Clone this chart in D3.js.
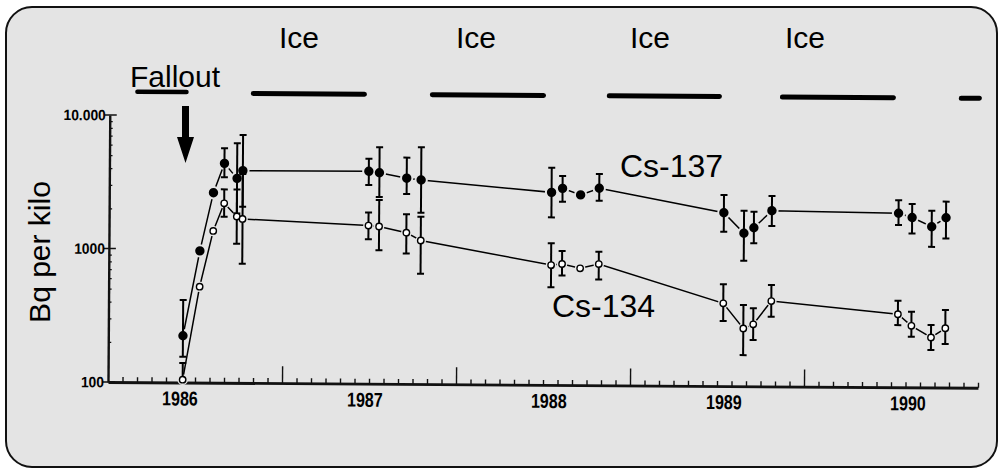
<!DOCTYPE html>
<html><head><meta charset="utf-8">
<script src="https://cdn.jsdelivr.net/npm/d3@7"></script>
<style>
html,body{margin:0;padding:0;background:#fff;}
svg{display:block;font-family:"Liberation Sans",Arial,Helvetica,sans-serif;}
</style></head>
<body>
<svg id="chart" width="1001" height="475"></svg>
<script>
// ---------- data ----------
const sampleDates = [1986.429,1986.523,1986.599,1986.661,1986.734,1986.767,
  1987.491,1987.552,1987.709,1987.792,
  1988.542,1988.605,1988.709,1988.816,
  1989.533,1989.649,1989.706,1989.809,
  1990.537,1990.615,1990.728,1990.810];
const cs137   = [224,970,2650,4400,3400,3890, 3900,3810,3480,3380, 2770,2970,2660,2990, 1990,1400,1540,2070, 2010,1870,1600,1870];
const cs137Lo = [156,null,null,3460,1860,2090, 3080,2510,2650,1920, 1800,2360,null,2410, 1430,870,1180,1590, 1640,1420,1130,1310];
const cs137Hi = [415,null,null,5710,6230,7190, 4850,5910,4960,5940, 4240,3680,null,3820, 2700,2060,2030,2670, 2520,2360,2110,2470];
const cs134   = [105,523,1370,2210,1760,1690, 1530,1510,1360,1190, 790,806,750,809, 417,271,291,436, 352,289,237,278];
const cs134Lo = [100,null,null,1750,1100,780, 1210,1000,950,670, 540,660,null,620, 307,171,222,333, 292,239,191,212];
const cs134Hi = [140,null,null,2810,2810,3670, 1920,2380,1870,1790, 1150,1010,null,1000, 579,406,384,575, 445,368,294,381];

const iceStart = [1986.824,1987.853,1988.870,1989.865,1990.893];
const iceEnd   = [1987.463,1988.492,1989.503,1990.503,1990.997];
const falloutPeriod = [1986.158,1986.440];

const yearLabels = ["1986","1987","1988","1989","1990"];
const yearLabelAt = [1986.414,1987.477,1988.534,1989.540,1990.598];
const yTickValues = [100,1000,10000];
const yTickLabels = ["100","1000","10.000"];

// ---------- layout ----------
const svg = d3.select("#chart");
const BG = "#e4e4e4";
svg.append("rect").attr("x",6).attr("y",7).attr("width",991).attr("height",460)
  .attr("rx",26).attr("ry",26).attr("fill",BG).attr("stroke","#111").attr("stroke-width",2);

const ox = 108, oy = 382;
const x = d3.scaleLinear().domain([1986,1991]).range([0,870]);
const y = d3.scaleLog().domain([100,10000]).range([0,-267]);

const g = svg.append("g").attr("transform",`translate(${ox},${oy}) rotate(0.38)`);

// x axis
const monthTicks = d3.range(0,61).map(i=>1986+i/12);
const xAxis = g.append("g").call(d3.axisBottom(x).tickValues(monthTicks).tickSize(-5).tickSizeOuter(0).tickFormat(""));
xAxis.select(".domain").attr("stroke","#111").attr("stroke-width",2.8);
xAxis.selectAll(".tick line").attr("stroke","#111").attr("stroke-width",1.4)
  .attr("y2",d=>{const yr=Math.round(d); return (Math.abs(d-yr)<1e-6 && yr>1986 && yr<1991)? -17 : -5;});
xAxis.selectAll(".tick").filter(d=>Math.abs(d-1986)<1e-6).remove();

g.selectAll(".yearlab").data(yearLabels).join("text")
  .attr("transform",(d,i)=>`translate(${x(yearLabelAt[i])},23) scale(0.8,1)`)
  .attr("text-anchor","middle").attr("font-size",20).attr("font-weight","bold").attr("fill","#000")
  .text(d=>d);

// y axis
const minor = [];
[100,1000].forEach(b=>{for(let k=2;k<=9;k++) minor.push(b*k);});
const yAxis = g.append("g").call(d3.axisLeft(y).tickValues(minor).tickSize(-3).tickSizeOuter(0).tickFormat(""));
yAxis.select(".domain").attr("stroke","#111").attr("stroke-width",2.4);
yAxis.selectAll(".tick line").attr("stroke","#111").attr("stroke-width",1.2);
g.selectAll(".ymaj").data(yTickValues).join("line")
  .attr("x1",-5).attr("x2",7).attr("y1",d=>y(d)).attr("y2",d=>y(d))
  .attr("stroke","#111").attr("stroke-width",1.6);
g.selectAll(".ylab").data(yTickValues).join("text")
  .attr("transform",d=>`translate(-4,${y(d)}) scale(0.92,1)`).attr("dy","0.36em")
  .attr("text-anchor","end").attr("font-size",15).attr("font-weight","bold").attr("fill","#000")
  .text((d,i)=>yTickLabels[i]);

// ice & fallout bars
const barY = -289.5;
g.selectAll(".ice").data(iceStart).join("line")
  .attr("x1",d=>x(d)).attr("x2",(d,i)=>x(iceEnd[i]))
  .attr("y1",barY).attr("y2",barY)
  .attr("stroke","#000").attr("stroke-width",5).attr("stroke-linecap","round");
g.append("line").attr("x1",x(falloutPeriod[0])).attr("x2",x(falloutPeriod[1]))
  .attr("y1",barY-1).attr("y2",barY-1)
  .attr("stroke","#000").attr("stroke-width",4.5).attr("stroke-linecap","round");

// series
const line = d3.line().x(d=>x(d[0])).y(d=>y(d[1]));
const s137 = sampleDates.map((d,i)=>[d,cs137[i],cs137Lo[i],cs137Hi[i]]);
const s134 = sampleDates.map((d,i)=>[d,cs134[i],cs134Lo[i],cs134Hi[i]]);

[s137,s134].forEach(s=>{
  g.append("path").datum(s).attr("d",line).attr("fill","none").attr("stroke","#000").attr("stroke-width",1.5);
});
// halos
[[s137,4.7],[s134,3.3]].forEach(([s,r])=>{
  g.append("g").selectAll("circle").data(s).join("circle")
    .attr("cx",d=>x(d[0])).attr("cy",d=>y(d[1])).attr("r",r+2).attr("fill",BG);
});
// error bars
[s137,s134].forEach(s=>{
  const eb = g.append("g").selectAll("g").data(s.filter(d=>d[2]!=null)).join("g");
  eb.append("line").attr("x1",d=>x(d[0])).attr("x2",d=>x(d[0]))
    .attr("y1",d=>y(d[2])).attr("y2",d=>y(d[3])).attr("stroke","#000").attr("stroke-width",2);
  eb.append("line").attr("x1",d=>x(d[0])-3.5).attr("x2",d=>x(d[0])+3.5)
    .attr("y1",d=>y(d[3])).attr("y2",d=>y(d[3])).attr("stroke","#000").attr("stroke-width",2);
  eb.filter(d=>d[2]>100).append("line").attr("x1",d=>x(d[0])-3.5).attr("x2",d=>x(d[0])+3.5)
    .attr("y1",d=>y(d[2])).attr("y2",d=>y(d[2])).attr("stroke","#000").attr("stroke-width",2);
});
// markers
g.append("g").selectAll("circle").data(s137).join("circle")
  .attr("cx",d=>x(d[0])).attr("cy",d=>y(d[1])).attr("r",4.7).attr("fill","#000");
g.append("g").selectAll("circle").data(s134).join("circle")
  .attr("cx",d=>x(d[0])).attr("cy",d=>y(d[1])).attr("r",3.2)
  .attr("fill","#fff").attr("stroke","#000").attr("stroke-width",1.4);

// annotations (screen space)
const ann = svg.append("g").attr("fill","#000");
const iceLabelX = [299,476,650,805];
iceLabelX.forEach(cx=>ann.append("text").attr("x",cx).attr("y",48).attr("text-anchor","middle").attr("font-size",30).text("Ice"));
ann.append("text").attr("x",130).attr("y",87).attr("font-size",30).text("Fallout");
ann.append("text").attr("x",620).attr("y",177).attr("font-size",32).text("Cs-137");
ann.append("text").attr("x",552).attr("y",317).attr("font-size",32).text("Cs-134");
ann.append("text").attr("transform","translate(50,252) rotate(-90)").attr("text-anchor","middle")
  .attr("font-size",30).text("Bq per kilo");
// fallout arrow
ann.append("path").attr("d","M182,106 L189,106 L189,137 L194,137 L185.5,163 L177,137 L182,137 Z").attr("fill","#000");
</script>
</body></html>
